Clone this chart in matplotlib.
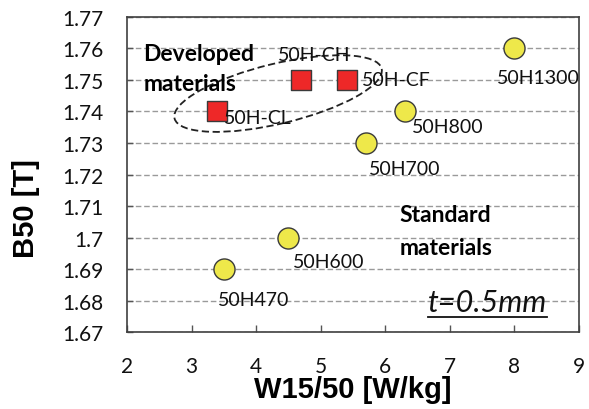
import matplotlib
matplotlib.use('Agg')
import matplotlib.pyplot as plt
import matplotlib.transforms as mtransforms
from matplotlib.patches import Ellipse
from matplotlib.lines import Line2D

# developed grades (squares)
dev_names = ['50H-CL', '50H-CH', '50H-CF']
dev_w = [3.4, 4.7, 5.4]
dev_b = [1.74, 1.75, 1.75]
dev_offsets = [(5, -4), (9, 18), (11, 0)]
dev_ha = ['left', 'center', 'left']

# standard grades (circles)
std_names = ['50H1300', '50H800', '50H700', '50H600', '50H470']
std_w = [8.0, 6.3, 5.7, 4.5, 3.5]
std_b = [1.76, 1.74, 1.73, 1.70, 1.69]
std_offsets = [(17, -21), (5, -11), (2, -18), (3, -17), (-4, -22)]

x_ticks = [2, 3, 4, 5, 6, 7, 8, 9]
y_ticks = [1.67, 1.68, 1.69, 1.70, 1.71, 1.72, 1.73, 1.74, 1.75, 1.76, 1.77]
y_ticklabels = ['1.67', '1.68', '1.69', '1.7', '1.71', '1.72', '1.73', '1.74',
                '1.75', '1.76', '1.77']

plt.rcParams['font.family'] = ['Lato', 'DejaVu Sans']
edge = '#3a3a3a'

fig = plt.figure(figsize=(5.89, 4.10), dpi=100)
ax = fig.add_axes([0.2156, 0.1878, 0.7674, 0.7683])

ax.set_xlim(2, 9)
ax.set_ylim(1.67, 1.77)
ax.set_xticks(x_ticks)
ax.set_yticks(y_ticks)
ax.set_yticklabels(y_ticklabels)
ax.tick_params(axis='x', direction='in', length=5, width=1, color='#555555',
               pad=17, labelsize=15, labelcolor='#111111')
ax.tick_params(axis='y', direction='in', length=4, width=1, color='#555555',
               pad=17, labelsize=15, labelcolor='#111111')
for s in ax.spines.values():
    s.set_color('#404040')
    s.set_linewidth(1.2)

ax.yaxis.grid(True, linestyle=(0, (4, 2)), color='#9a9a9a', linewidth=1)
ax.set_axisbelow(True)

ax.scatter(std_w, std_b, s=230, marker='o', color='#eee84a',
           edgecolor=edge, linewidth=1, zorder=3)
ax.scatter(dev_w, dev_b, s=190, marker='s', color='#ee2828',
           edgecolor=edge, linewidth=1, zorder=3)

for name, x, y, off in zip(std_names, std_w, std_b, std_offsets):
    ha = 'center' if name == '50H1300' else 'left'
    ax.annotate(name, (x, y), xytext=off, textcoords='offset points',
                ha=ha, va='center', fontsize=14, color='#111111', zorder=4)
for name, x, y, off, ha in zip(dev_names, dev_w, dev_b, dev_offsets, dev_ha):
    ax.annotate(name, (x, y), xytext=off, textcoords='offset points',
                ha=ha, va='center', fontsize=14, color='#111111', zorder=4)

# dashed ellipse around the developed grades
trans = fig.dpi_scale_trans + mtransforms.ScaledTranslation(4.34, 1.7457, ax.transData)
ax.add_patch(Ellipse((0, 0), width=2.13, height=0.6, angle=13.5, fill=False,
                     linestyle=(0, (4, 2)), edgecolor='#222222', linewidth=1.3,
                     transform=trans, zorder=2))

ax.text(2.25, 1.7565, 'Developed', fontsize=16.5, fontweight='bold', ha='left', va='baseline')
ax.text(2.25, 1.7469, 'materials', fontsize=16.5, fontweight='bold', ha='left', va='baseline')
ax.text(6.22, 1.7051, 'Standard', fontsize=16.5, fontweight='bold', ha='left', va='baseline')
ax.text(6.22, 1.6949, 'materials', fontsize=16.5, fontweight='bold', ha='left', va='baseline')

t = ax.text(6.66, 1.6767, 't=0.5mm', fontsize=22, fontstyle='italic',
            ha='left', va='baseline', color='#111111')

ax.set_xlabel('W15/50 [W/kg]', fontsize=21, fontweight='bold', family='Liberation Sans')
ax.set_ylabel('B50 [T]', fontsize=21, fontweight='bold', family='Liberation Sans')
ax.xaxis.set_label_coords(0.5, -0.135)
ax.yaxis.set_label_coords(-0.223, 0.394)
ax.yaxis.label.set_va('center')

# underline under the thickness note
fig.canvas.draw()
bb = t.get_window_extent()
uy = bb.y0 - 1
fig.add_artist(Line2D([bb.x0 / fig.dpi / 5.89, bb.x1 / fig.dpi / 5.89],
                      [uy / fig.dpi / 4.10] * 2, color='#111111', linewidth=1.3,
                      transform=fig.transFigure))

fig.savefig('out.png', dpi=100)
